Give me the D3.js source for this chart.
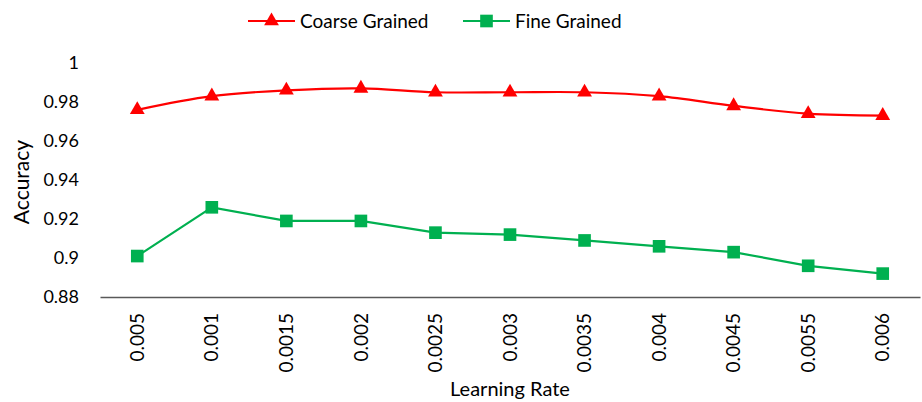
<!DOCTYPE html>
<html>
<head>
<meta charset="utf-8">
<script src="https://cdn.jsdelivr.net/npm/d3@7"></script>
<style>
  body { margin: 0; background: #fff; }
  text { font-family: Lato, "Open Sans", sans-serif; fill: #000; }
</style>
</head>
<body>
<script>
// data
const rates = ['0.005', '0.001', '0.0015', '0.002', '0.0025', '0.003', '0.0035', '0.004', '0.0045', '0.0055', '0.006'];
const coarse = [0.976, 0.983, 0.986, 0.987, 0.985, 0.985, 0.985, 0.983, 0.978, 0.974, 0.973];
const fine = [0.901, 0.926, 0.919, 0.919, 0.913, 0.912, 0.909, 0.906, 0.903, 0.896, 0.892];
const yTicks = [0.88, 0.9, 0.92, 0.94, 0.96, 0.98, 1];

const width = 922, height = 402;
const plotLeft = 100, plotRight = 920, plotTop = 63, plotBottom = 297;

const svg = d3.select('body').append('svg')
  .attr('width', width)
  .attr('height', height);

const x = d3.scaleBand().domain(rates).range([plotLeft, plotRight]);
const y = d3.scaleLinear().domain([0.88, 1]).range([plotBottom, plotTop]);

// y axis: labels only
const yAxis = svg.append('g')
  .attr('transform', `translate(${plotLeft},0)`)
  .call(d3.axisLeft(y).tickValues(yTicks).tickFormat(d3.format('~g')).tickSize(0).tickPadding(21));
yAxis.select('.domain').remove();
yAxis.selectAll('text').style('font-size', '18px').style('font-family', 'Lato, sans-serif');

// x axis
const xAxis = svg.append('g')
  .attr('transform', `translate(0,${plotBottom})`)
  .call(d3.axisBottom(x).tickSize(0).tickSizeOuter(0));
xAxis.select('.domain').attr('stroke', '#595959').attr('stroke-width', 1.3);
xAxis.selectAll('text')
  .style('font-size', '19px')
  .style('font-family', 'Lato, sans-serif')
  .attr('transform', 'rotate(-90)')
  .attr('text-anchor', 'end')
  .attr('x', -16)
  .attr('y', 0)
  .attr('dy', '0.35em');

// axis titles
svg.append('text')
  .attr('x', (plotLeft + plotRight) / 2)
  .attr('y', 396)
  .attr('text-anchor', 'middle')
  .style('font-size', '20px')
  .text('Learning Rate');

svg.append('text')
  .attr('transform', `translate(29,${(plotTop + plotBottom) / 2 + 2}) rotate(-90)`)
  .attr('text-anchor', 'middle')
  .style('font-size', '21px')
  .text('Accuracy');

const cx = (d, i) => x(rates[i]) + x.bandwidth() / 2;

const series = [
  { name: 'Coarse Grained', values: coarse, color: '#ff0000', symbol: d3.symbolTriangle, size: 95, curve: d3.curveCatmullRom },
  { name: 'Fine Grained', values: fine, color: '#00b050', symbol: d3.symbolSquare, size: 160, curve: d3.curveLinear }
];

series.forEach(s => {
  const line = d3.line().x(cx).y(d => y(d)).curve(s.curve);
  svg.append('path')
    .datum(s.values)
    .attr('fill', 'none')
    .attr('stroke', s.color)
    .attr('stroke-width', 2.2)
    .attr('d', line);

  svg.selectAll(null)
    .data(s.values)
    .enter().append('path')
    .attr('transform', (d, i) => `translate(${cx(d, i)},${y(d)})`)
    .attr('d', d3.symbol().type(s.symbol).size(s.size))
    .attr('fill', s.color);
});

// legend
const legendX = [248, 463];
series.forEach((s, i) => {
  const g = svg.append('g').attr('transform', `translate(${legendX[i]},21)`);
  g.append('line')
    .attr('x1', 0).attr('x2', 47)
    .attr('stroke', s.color)
    .attr('stroke-width', 2.2);
  g.append('path')
    .attr('transform', 'translate(23.5,0)')
    .attr('d', d3.symbol().type(s.symbol).size(s.size))
    .attr('fill', s.color);
  g.append('text')
    .attr('x', 52)
    .attr('dy', '0.35em')
    .style('font-size', '19px')
    .text(s.name);
});
</script>
</body>
</html>
